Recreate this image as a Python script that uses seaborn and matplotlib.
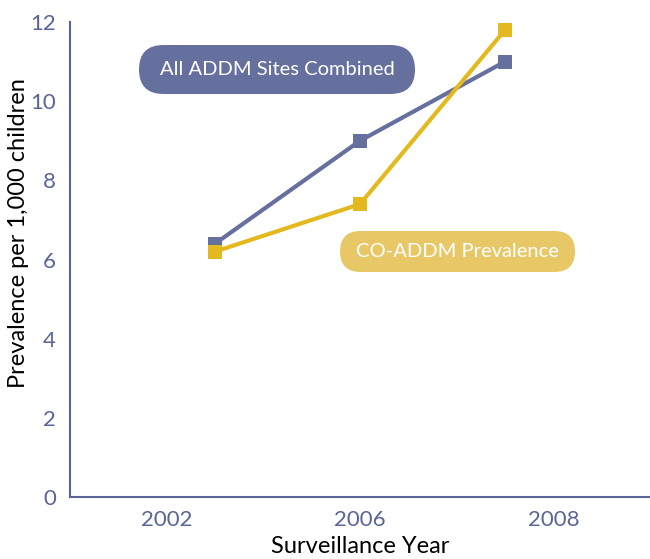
import seaborn as sns
import matplotlib.pyplot as plt
import pandas as pd
from matplotlib.patches import FancyBboxPatch

# data
years = ['2002', '2006', '2008']
all_sites = [6.4, 9.0, 11.0]
co_addm = [6.2, 7.4, 11.8]
series_names = ['All ADDM Sites Combined', 'CO-ADDM Prevalence']

blue = '#66709e'
yellow = '#e3b91f'
pale_yellow = '#e8c866'
axis_col = '#5a6496'

df = pd.DataFrame({
    'pos': list(range(len(years))) * 2,
    'value': all_sites + co_addm,
    'series': [series_names[0]] * len(years) + [series_names[1]] * len(years),
})

sns.set_style('white')
plt.rcParams['font.family'] = ['Lato', 'DejaVu Sans']

fig = plt.figure(figsize=(6.5, 5.59), dpi=100)
ax = fig.add_axes([0.1077, 0.1109, 0.8923, 0.8497])

sns.lineplot(data=df, x='pos', y='value', hue='series',
             palette=[blue, yellow], marker='s', markersize=10,
             markeredgewidth=0, linewidth=3, legend=False, ax=ax)

ax.set_xlim(-1, 3)
ax.set_ylim(0, 12)
ax.set_yticks(range(0, 13, 2))

# year labels sit in the middle of each bin, bin borders get the tick marks
ax.set_xticks([-1 / 3, 1, 7 / 3])
ax.set_xticklabels(years)
ax.set_xticks([1 / 3, 5 / 3], minor=True)
ax.tick_params(axis='x', which='major', length=0, pad=9,
               labelsize=16, labelcolor=axis_col)
ax.tick_params(axis='x', which='minor', direction='in', length=12,
               width=1.5, color=axis_col)
ax.tick_params(axis='y', direction='in', length=12, width=1.5,
               color=axis_col, labelsize=16, labelcolor=axis_col, pad=10)

for side in ['top', 'right']:
    ax.spines[side].set_visible(False)
for side in ['left', 'bottom']:
    ax.spines[side].set_color(axis_col)
    ax.spines[side].set_linewidth(1.5)

ax.set_xlabel('Surveillance Year', fontsize=17, color='black',
              va='center', ha='center')
ax.xaxis.set_label_coords(0.5, -0.105)
ax.set_ylabel('Prevalence per 1,000 children', fontsize=17, color='black',
              va='center', ha='center')
ax.yaxis.set_label_coords(-0.088, 0.556)

# pill labels in place of a legend (positions in inches)
pills = [
    (series_names[0], blue, 1.39, 4.65, 2.76, 0.49, 14.5),
    (series_names[1], pale_yellow, 3.40, 2.87, 2.35, 0.41, 14.5),
]
for name, col, x0, y0, w, h, fs in pills:
    box = FancyBboxPatch((x0, y0), w, h,
                         boxstyle=f'round,pad=0,rounding_size={h / 2}',
                         fc=col, ec='none', transform=fig.dpi_scale_trans,
                         zorder=1)
    fig.patches.append(box)
    fig.text(x0 + w / 2, y0 + h / 2, name, transform=fig.dpi_scale_trans,
             ha='center', va='center', fontsize=fs, color='white', zorder=2)

fig.savefig('out.png', dpi=100)
